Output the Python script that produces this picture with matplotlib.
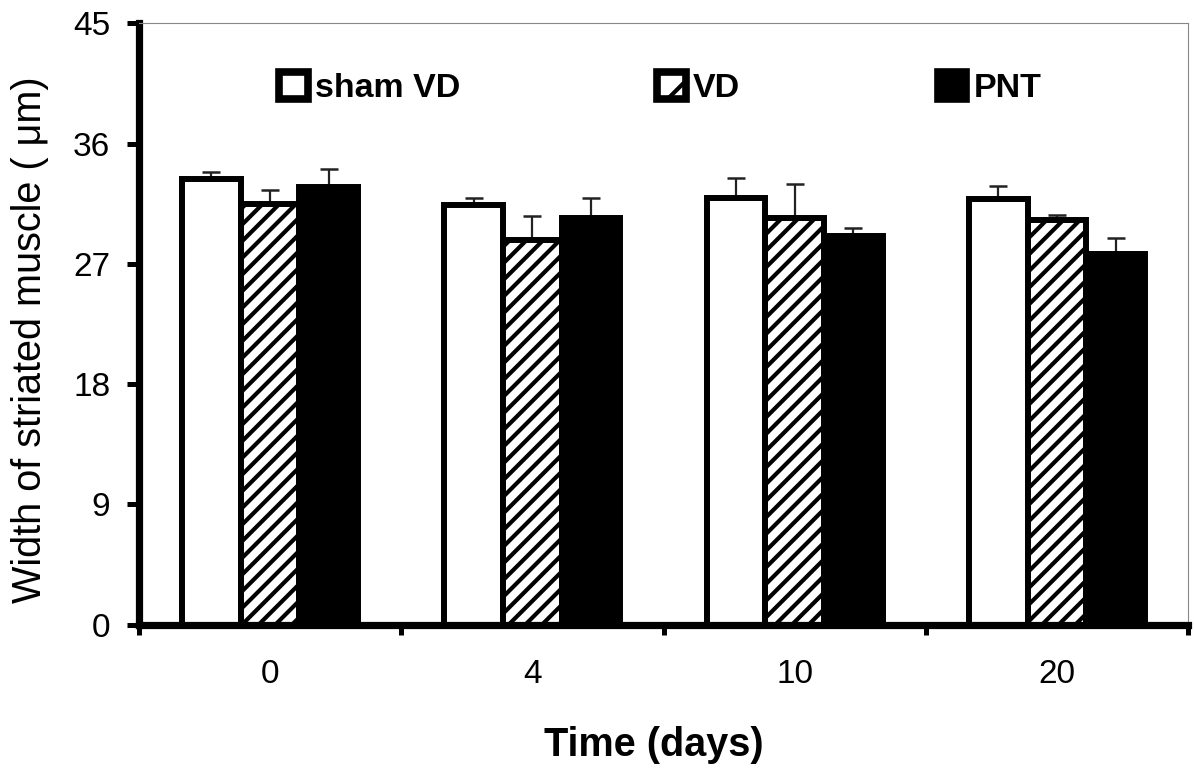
import matplotlib
matplotlib.use("Agg")
import matplotlib.pyplot as plt
from matplotlib.patches import Rectangle
import numpy as np

plt.rcParams['font.family'] = ['Liberation Sans', 'DejaVu Sans']
plt.rcParams['hatch.linewidth'] = 3.0

days = ["0", "4", "10", "20"]
series = ["sham VD", "VD", "PNT"]
sham_vals = [33.35, 31.4, 31.95, 31.85]
vd_vals = [31.5, 28.75, 30.45, 30.3]
pnt_vals = [32.75, 30.4, 29.1, 27.7]
sham_err = [0.55, 0.55, 1.45, 1.0]
vd_err = [1.0, 1.8, 2.5, 0.35]
pnt_err = [1.35, 1.5, 0.6, 1.2]
yticks = [0, 9, 18, 27, 36, 45]

fig = plt.figure(figsize=(11.94, 7.68), dpi=100)
ax = fig.add_axes([0.1164, 0.1868, 0.995 - 0.1164, 0.9697 - 0.1868])

x = np.arange(len(days))
w = 0.224
edge_lw = 4.3
styles = [
    dict(facecolor="white", edgecolor="black", hatch=None),
    dict(facecolor="white", edgecolor="black", hatch="//"),
    dict(facecolor="black", edgecolor="black", hatch=None),
]
vals = [sham_vals, vd_vals, pnt_vals]
errs = [sham_err, vd_err, pnt_err]
handles = []
for i, (v, e, st) in enumerate(zip(vals, errs, styles)):
    pos = x + (i - 1) * w
    ax.errorbar(pos, v, yerr=[np.zeros(len(e)), e], fmt="none", ecolor="#222222",
                elinewidth=1.6, capsize=6.5, capthick=1.8, zorder=1)
    ax.bar(pos, v, width=w, linewidth=edge_lw, zorder=2, **st)
    hst = dict(st)
    if hst["hatch"]:
        hst["hatch"] = "/"
    handles.append(Rectangle((0, 0), 1, 1, linewidth=5.5, **hst))

ax.set_xlim(-0.5, 3.5)
ax.set_ylim(0, 45)
ax.set_yticks(yticks)
ax.set_yticklabels([str(t) for t in yticks])
ax.set_xticks(x)
ax.set_xticklabels(days)
ax.set_xticks(np.arange(-0.5, 3.6, 1.0), minor=True)

ax.tick_params(axis="y", direction="out", length=8.6, width=3.6, labelsize=24, pad=12)
ax.tick_params(axis="x", which="major", length=0, labelsize=24, pad=25)
ax.tick_params(axis="x", which="minor", direction="out", length=7.5, width=3.6)

for s in ["left", "bottom"]:
    ax.spines[s].set_linewidth(5.2)
    ax.spines[s].set_color("black")
for s in ["top", "right"]:
    ax.spines[s].set_linewidth(0.8)
    ax.spines[s].set_color("#888888")

fig.text(30 / 1194, 1 - 340 / 768, "Width of striated muscle ( \u03bcm)", fontsize=28.5,
         rotation=90, ha="center", va="center")
fig.text(654 / 1194, 1 - 745 / 768, "Time (days)", fontsize=28.5, fontweight="bold",
         ha="center", va="center")

leg = fig.legend(handles, series, loc="center left",
                 bbox_to_anchor=(279 / 1194, 1 - 88 / 768), ncol=3, frameon=False,
                 prop=dict(size=24.5, weight="bold"), handlelength=0.85, handleheight=0.85,
                 handletextpad=0.2, columnspacing=5.8, borderpad=0, borderaxespad=0)

fig.savefig("out.png", dpi=100)
